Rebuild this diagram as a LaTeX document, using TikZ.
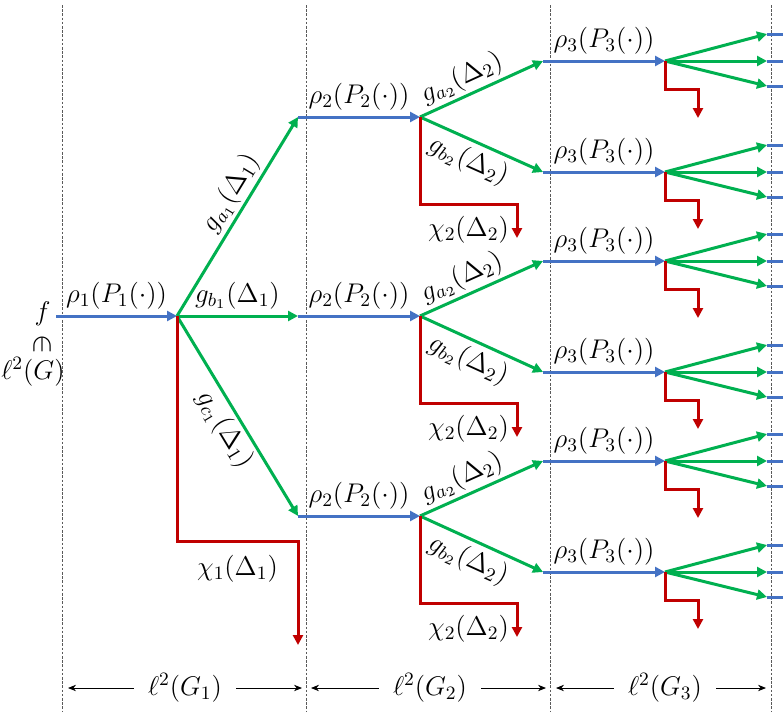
\documentclass[tikz,border=0pt]{standalone}
\usepackage{fix-cm}
\usetikzlibrary{arrows.meta}
\definecolor{myblue}{RGB}{68,114,196}
\definecolor{mygreen}{RGB}{0,176,80}
\definecolor{myred}{RGB}{192,0,0}
\definecolor{sepgray}{RGB}{90,90,90}
\tikzset{
  tipT/.tip={Triangle[length=5pt,width=5pt]},
  bl/.style={draw=myblue,line width=1.5pt,-tipT},
  blstub/.style={draw=myblue,line width=1.5pt},
  gr/.style={draw=mygreen,line width=1.5pt,-tipT},
  rd/.style={draw=myred,line width=1.5pt,-tipT},
  sep/.style={draw=sepgray,line width=0.35pt,dash pattern=on 1.3pt off 0.8pt},
  ax/.style={draw=black,line width=0.4pt,-{Stealth[length=4pt,width=3.2pt]}},
  lab/.style={font=\fontsize{13.5}{16}\selectfont,inner sep=1.5pt,text=black},
}
\begin{document}
\begin{tikzpicture}[x=0.5pt,y=-0.5pt]
\useasboundingbox (0,0) rectangle (783,712);
% separators
\foreach \xx [count=\k] in {62,306,550,771}{
  \coordinate (st\k) at (\xx,5);
  \coordinate (sb\k) at (\xx,712);
  \draw[sep] (st\k) -- (sb\k);
}
% level 1
\coordinate (f0) at (56,316);
\coordinate (S1) at (177,316);
\node[lab,anchor=east] (fl) at (54,314) {$f$};
\node[lab,rotate=-90,font=\fontsize{15}{17}\selectfont] (inl) at (42,344) {$\in$};
\node[lab] (gl) at (33,372) {$\ell^2(G)$};
\draw[bl] (f0) -- node[lab,above=1pt] (r1l) {$\rho_1(P_1(\cdot))$} (S1);
% level 2 nodes
\coordinate (A) at (298,117);
\coordinate (B) at (298,316);
\coordinate (C) at (298,516);
\draw[gr] (S1) -- node[lab,sloped,above,pos=0.57] (ga1) {$g_{a_1}(\Delta_1)$} (A);
\draw[gr] (S1) -- node[lab,above=1pt,pos=0.5] (gb1) {$g_{b_1}(\Delta_1)$} (B);
\draw[gr] (S1) -- node[lab,sloped,below,pos=0.52] (gc1) {$g_{c_1}(\Delta_1)$} (C);
\coordinate (r1c) at (298,541);
\coordinate (r1e) at (298,645);
\draw[rd] (S1) |- node[lab,pos=0.75,below=5pt] (chi1) {$\chi_1(\Delta_1)$} (r1c) -- (r1e);
% level 2 -> level 3
\foreach \n/\y/\ya/\yb in {A/117/61/172, B/316/261/372, C/516/461/572}{
  \coordinate (\n p) at (420,\y);
  \draw[bl] (\n) -- node[lab,above=1pt] (\n rho) {$\rho_2(P_2(\cdot))$} (\n p);
  \coordinate (\n u) at (543,\ya);
  \coordinate (\n d) at (543,\yb);
  \draw[gr] (\n p) -- node[lab,sloped,above,pos=0.4] (\n ga) {$g_{a_2}(\Delta_2)$} (\n u);
  \draw[gr] (\n p) -- node[lab,sloped,below=1pt,pos=0.46] (\n gb) {$g_{b_2}(\Delta_2)$} (\n d);
  \coordinate (\n rc) at (517,\y+87);
  \coordinate (\n re) at (517,\y+121);
  \draw[rd] (\n p) |- node[lab,pos=0.75,below=4pt] (\n chi) {$\chi_2(\Delta_2)$} (\n rc) -- (\n re);
}
% level 3
\foreach \y [count=\k] in {61,172,261,372,461,572}{
  \coordinate (T\k) at (543,\y);
  \coordinate (U\k) at (665,\y);
  \draw[bl] (T\k) -- node[lab,above=1pt] (rho3\k) {$\rho_3(P_3(\cdot))$} (U\k);
  \foreach \dy [count=\j] in {-27,0,25}{
    \coordinate (V\k\j) at (767,\y+\dy);
    \coordinate (W\k\j) at (783,\y+\dy);
    \draw[gr] (U\k) -- (V\k\j);
    \draw[blstub] (V\k\j) -- (W\k\j);
  }
  \coordinate (R\k c) at (698,\y+28);
  \coordinate (R\k e) at (698,\y+57);
  \draw[rd] (U\k) |- (R\k c) -- (R\k e);
}
% axis
\foreach \xa/\xb/\xm/\g [count=\k] in {68/302/185/1, 311/546/430/2, 556/766/665/3}{
  \node[lab,inner xsep=7pt] (ax\k) at (\xm,688) {$\ell^2(G_\g)$};
  \coordinate (axl\k) at (\xa,688);
  \coordinate (axr\k) at (\xb,688);
  \draw[ax] (ax\k) -- (axl\k);
  \draw[ax] (ax\k) -- (axr\k);
}
\end{tikzpicture}
\end{document}
